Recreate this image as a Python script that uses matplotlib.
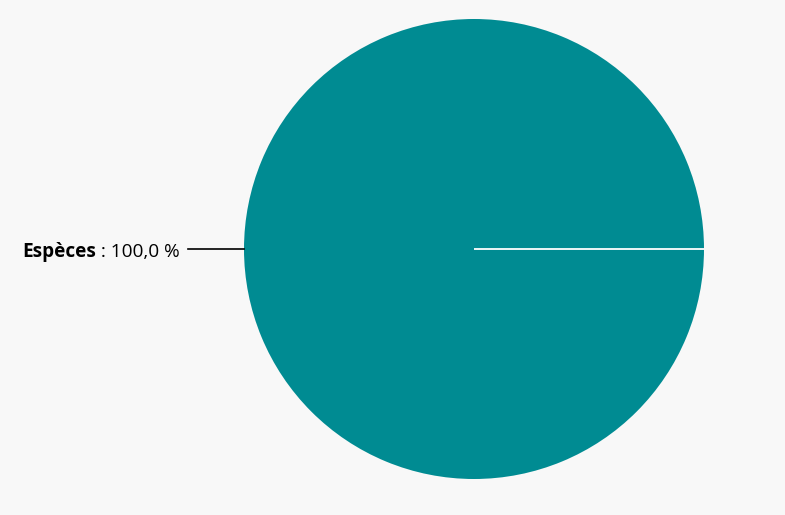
import numpy as np
import matplotlib.pyplot as plt

labels = ["Espèces"]
values = [100.0]
colors = ["#008b92"]

fig = plt.figure(figsize=(7.85, 5.15), dpi=100)
fig.patch.set_facecolor("#f8f8f8")

W, H = 785, 515
cx, cy, r = 474, 249, 230
ax = fig.add_axes([(cx - r) / W, (H - cy - r) / H, 2 * r / W, 2 * r / H])
ax.set_facecolor("none")

start = 0
wedges, _ = ax.pie(values, colors=colors, startangle=start, counterclock=True,
                   radius=1.0, wedgeprops=dict(linewidth=0))
# slice border from centre
a = np.deg2rad(start)
ax.plot([0, np.cos(a)], [0, np.sin(a)], color="white", lw=1.3, solid_capstyle="butt")
ax.set_xlim(-1, 1)
ax.set_ylim(-1, 1)
ax.set_aspect("equal")
ax.axis("off")

# label with connector line on the left
total = sum(values)
fs = 13.7
for lab, v in zip(labels, values):
    ang = np.deg2rad(start + 180)
    px, py = np.cos(ang), np.sin(ang)
    ax.plot([px, px - 56 / r], [py, py], color="black", lw=1.2, clip_on=False)
    tx = px - 64 / r
    ty = py - 3 / r
    pct = f" : {v / total * 100:.1f} %".replace(".", ",")
    t2 = ax.text(tx, ty, pct, ha="right", va="center", fontsize=fs,
                 family="Open Sans", color="black")
    fig.canvas.draw()
    bb = t2.get_window_extent()
    x0 = ax.transData.inverted().transform((bb.x0, 0))[0]
    ax.text(x0, ty, lab, ha="right", va="center", fontsize=fs,
            family="Open Sans", fontweight="bold", color="black")

fig.savefig("out.png", dpi=100, facecolor=fig.get_facecolor())
